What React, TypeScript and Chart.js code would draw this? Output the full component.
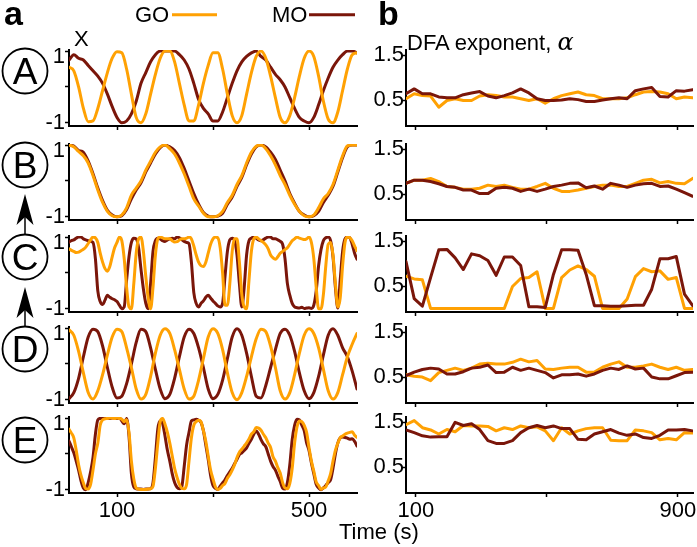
import React, { useEffect, useRef } from "react";
import { Chart, registerables } from "chart.js";

Chart.register(...registerables);

const FONT = '"Liberation Sans", Arial, Helvetica, sans-serif';
const GO_COLOR = "#FFA103";
const MO_COLOR = "#7A160A";

// ---------- categories / ticks ----------
const PANEL_LETTERS = ["A", "B", "C", "D", "E"];
const TIME_10S = [0, 10, 20, 30, 40, 50, 60, 70, 80, 90, 100, 110, 120, 130, 140, 150, 160, 170, 180, 190, 200, 210, 220, 230, 240, 250, 260, 270, 280, 290, 300, 310, 320, 330, 340, 350, 360, 370, 380, 390, 400, 410, 420, 430, 440, 450, 460, 470, 480, 490, 500, 510, 520, 530, 540, 550, 560, 570, 580, 590, 600];
const TIME_5S = [0, 5, 10, 15, 20, 25, 30, 35, 40, 45, 50, 55, 60, 65, 70, 75, 80, 85, 90, 95, 100, 105, 110, 115, 120, 125, 130, 135, 140, 145, 150, 155, 160, 165, 170, 175, 180, 185, 190, 195, 200, 205, 210, 215, 220, 225, 230, 235, 240, 245, 250, 255, 260, 265, 270, 275, 280, 285, 290, 295, 300, 305, 310, 315, 320, 325, 330, 335, 340, 345, 350, 355, 360, 365, 370, 375, 380, 385, 390, 395, 400, 405, 410, 415, 420, 425, 430, 435, 440, 445, 450, 455, 460, 465, 470, 475, 480, 485, 490, 495, 500, 505, 510, 515, 520, 525, 530, 535, 540, 545, 550, 555, 560, 565, 570, 575, 580, 585, 590, 595, 600];
const DFA_WINDOWS = [70, 95, 120, 145, 170, 195, 220, 245, 270, 295, 320, 345, 370, 395, 420, 445, 470, 495, 520, 545, 570, 595, 620, 645, 670, 695, 720, 745, 770, 795, 820, 845, 870, 895, 920, 945];

const TIME_X_TICKS = [100, 300, 500];
const TIME_X_LABELS = [100, 500];
const TIME_Y_TICKS = [-1, 0, 1];
const DFA_X_TICKS = [100, 500, 900];
const DFA_X_LABELS = [100, 900];
const DFA_Y_TICKS = [0.5, 1.5];

// ---------- panel a: normalised signals X ----------
const GO_X_A = [0.55, 0.45, 0.0, -0.6, -0.97, -0.95, -0.6, -0.1, 0.4, 0.8, 0.98, 0.95, 0.5, -0.2, -0.85, -1.0, -0.75, -0.2, 0.35, 0.8, 1.0, 1.0, 0.7, 0.1, -0.5, -0.95, -0.95, -0.5, 0.1, 0.6, 0.95, 0.95, 0.5, -0.2, -0.8, -1.0, -0.8, -0.2, 0.4, 0.85, 1.0, 0.8, 0.3, -0.3, -0.85, -1.0, -0.8, -0.3, 0.3, 0.8, 1.0, 0.85, 0.3, -0.4, -0.9, -1.0, -0.7, -0.1, 0.5, 0.9, 0.95];
const MO_X_A = [0.75, 0.9, 0.8, 0.75, 0.6, 0.45, 0.3, 0.1, -0.2, -0.55, -0.85, -1.0, -0.95, -0.75, -0.4, 0.1, 0.4, 0.7, 0.9, 1.0, 1.0, 1.0, 1.0, 0.9, 0.75, 0.5, 0.1, -0.35, -0.6, -0.75, -0.95, -0.95, -0.7, -0.3, 0.1, 0.45, 0.7, 0.85, 0.95, 1.0, 0.85, 0.75, 0.55, 0.35, 0.2, 0.0, -0.3, -0.6, -0.85, -0.95, -1.0, -0.85, -0.5, -0.1, 0.25, 0.55, 0.75, 0.9, 1.0, 1.0, 0.95];

const GO_X_B = [1.0, 0.95, 0.82, 0.7, 0.5, 0.15, -0.25, -0.6, -0.85, -0.97, -1.0, -0.95, -0.75, -0.4, -0.2, 0.0, 0.3, 0.55, 0.8, 0.95, 1.0, 0.9, 0.75, 0.5, 0.2, -0.15, -0.5, -0.7, -0.9, -1.0, -1.0, -0.97, -0.85, -0.6, -0.4, -0.1, 0.15, 0.5, 0.8, 0.97, 1.0, 0.9, 0.7, 0.45, 0.15, -0.1, -0.4, -0.65, -0.85, -0.97, -1.0, -0.95, -0.75, -0.5, -0.35, -0.1, 0.3, 0.7, 0.98, 1.0, 1.0];
const MO_X_B = [1.0, 0.97, 0.85, 0.8, 0.55, 0.2, -0.2, -0.55, -0.82, -0.95, -1.0, -0.97, -0.8, -0.5, -0.25, -0.05, 0.25, 0.5, 0.75, 0.93, 1.0, 0.95, 0.85, 0.65, 0.35, 0.0, -0.35, -0.65, -0.88, -0.98, -1.0, -0.98, -0.9, -0.65, -0.45, -0.15, 0.1, 0.45, 0.75, 0.95, 1.0, 0.95, 0.8, 0.6, 0.3, 0.0, -0.35, -0.62, -0.85, -0.95, -1.0, -0.97, -0.85, -0.6, -0.4, -0.15, 0.25, 0.65, 0.95, 1.0, 1.0];

const GO_X_C = [0.67, 0.63, 0.6, 0.57, 0.58, 0.62, 0.66, 0.72, 0.82, 0.92, 1.0, 0.98,
  0.85, 0.55, 0.3, 0.12, 0.05, 0.18, 0.45, 0.7, 0.85, 1.0, 0.9, 0.4,
  -0.4, -0.95, -1.0, -0.3, 0.55, 0.95, 1.0, 0.6, -0.1, -0.7, -1.0, -0.4,
  0.5, 0.95, 1.0, 0.98, 0.95, 0.95, 0.95, 0.9, 0.86, 0.87, 0.92, 0.95,
  0.95, 0.97, 1.0, 0.95, 0.75, 0.5, 0.3, 0.2, 0.18, 0.3, 0.55, 0.8,
  0.95, 1.0, 0.98, 0.7, 0.0, -0.9, -0.9, -0.3, 0.6, 0.95, 0.95, 0.3,
  -0.6, -0.95, -1.0, -0.2, 0.6, 0.95, 1.0, 0.95, 0.9, 0.85, 0.78, 0.67,
  0.5, 0.42, 0.38, 0.45, 0.55, 0.6, 0.65, 0.7, 0.8, 0.9, 0.95, 1.0,
  0.97, 0.95, 0.93, 0.95, 1.0, 0.85, 0.4, -0.4, -1.0, -1.0, -0.6, 0.2,
  0.8, 0.85, 0.5, -0.3, -0.95, -0.7, 0.2, 0.85, 1.0, 0.98, 0.9, 0.75,
  0.62];
const MO_X_C = [0.86, 0.9, 0.92, 0.97, 1.0, 1.0, 0.95, 0.92, 0.9, 0.88, 0.85, 0.4,
  -0.5, -0.8, -0.88, -0.76, -0.62, -0.68, -0.72, -0.75, -0.8, -0.9, -1.0, -0.95,
  -0.2, 0.45, 0.85, 0.97, 0.95, 0.7, 0.1, -0.45, -0.85, -1.0, -0.3, 0.6,
  0.9, 0.97, 0.95, 0.9, 0.88, 0.92, 0.95, 0.97, 0.95, 1.0, 0.98, 0.93,
  0.88, 0.85, 0.82, 0.3, -0.55, -0.85, -0.95, -0.85, -0.78, -0.68, -0.62, -0.7,
  -0.78, -0.85, -0.92, -0.95, -0.85, -0.1, 0.6, 0.92, 0.97, 0.9, 0.5, -0.3,
  -0.95, -0.4, 0.5, 0.9, 0.97, 1.0, 0.97, 0.92, 0.9, 0.93, 0.97, 1.0,
  1.0, 0.95, 0.95, 0.92, 0.88, 0.8, 0.4, -0.3, -0.62, -0.85, -0.95, -0.97,
  -0.98, -0.96, -0.99, -0.98, -0.97, -0.99, -0.9, -0.5, 0.2, 0.65, 0.9, 0.98,
  1.0, 0.9, 0.45, -0.4, -0.98, -0.2, 0.6, 0.95, 1.0, 0.98, 0.8, 0.55,
  0.38];

const GO_X_D = [0.95, 0.8, 0.35, -0.25, -0.8, -0.98, -0.75, -0.3, 0.25, 0.75, 0.97, 0.9, 0.45, -0.1, -0.7, -0.98, -0.85, -0.35, 0.3, 0.8, 0.98, 0.85, 0.4, -0.15, -0.7, -0.98, -0.9, -0.45, 0.15, 0.75, 0.98, 0.85, 0.4, -0.25, -0.8, -1.0, -0.8, -0.35, 0.2, 0.7, 0.97, 0.9, 0.5, -0.1, -0.75, -0.98, -0.8, -0.3, 0.3, 0.8, 0.98, 0.85, 0.45, -0.15, -0.75, -0.98, -0.8, -0.3, 0.2, 0.55, 0.85];
const MO_X_D = [-0.97, -0.8, -0.4, 0.2, 0.75, 0.97, 0.9, 0.5, -0.1, -0.65, -0.95, -0.9, -0.55, 0.0, 0.6, 0.97, 0.9, 0.45, -0.15, -0.7, -0.97, -0.85, -0.4, 0.2, 0.75, 0.97, 0.85, 0.45, -0.1, -0.7, -0.97, -0.85, -0.45, 0.15, 0.75, 0.98, 0.8, 0.3, -0.35, -0.9, -0.95, -0.6, -0.1, 0.4, 0.85, 0.97, 0.8, 0.35, -0.25, -0.75, -0.97, -0.8, -0.35, 0.25, 0.8, 0.98, 0.8, 0.45, 0.2, -0.2, -0.7];

const GO_X_E = [0.69, 0.58, 0.45, 0.1, -0.3, -0.6, -0.81, -0.97, -0.98, -0.85, -0.45, 0.0,
  0.3, 0.8, 0.95, 0.98, 0.99, 1.0, 1.0, 0.99, 1.0, 0.99, 0.97, 0.9,
  0.95, 0.6, -0.2, -0.7, -0.95, -0.98, -0.99, -0.99, -0.99, -0.98, -0.97, -0.9,
  -0.4, 0.3, 0.9, 0.99, 0.83, 0.6, 0.3, -0.05, -0.4, -0.65, -0.85, -0.96,
  -0.97, -0.85, -0.2, 0.45, 0.8, 0.9, 0.94, 0.9, 0.65, 0.35, -0.06, -0.45,
  -0.7, -0.92, -0.99, -0.96, -0.88, -0.82, -0.68, -0.58, -0.45, -0.3, -0.1, 0.05,
  0.13, 0.22, 0.31, 0.42, 0.55, 0.62, 0.74, 0.72, 0.66, 0.55, 0.45, 0.3,
  0.18, -0.08, -0.2, -0.38, -0.53, -0.8, -0.95, -0.97, -0.82, -0.4, 0.3, 0.75,
  0.92, 0.9, 0.8, 0.6, 0.18, -0.2, -0.48, -0.78, -0.88, -0.99, -0.95, -0.92,
  -0.75, -0.55, -0.2, 0.1, 0.3, 0.45, 0.5, 0.55, 0.58, 0.6, 0.62, 0.52,
  0.46];
const MO_X_E = [0.36, 0.2, 0.03, -0.2, -0.45, -0.75, -0.95, -1.0, -0.8, -0.5, -0.1, 0.55,
  0.95, 0.99, 0.99, 1.0, 1.0, 0.99, 1.0, 1.0, 0.99, 1.0, 0.92, 0.84,
  0.99, 0.5, -0.55, -0.92, -0.97, -0.98, -0.98, -0.99, -0.98, -0.98, -0.97, -0.8,
  -0.1, 0.7, 0.92, 0.85, 0.5, 0.1, -0.2, -0.55, -0.8, -0.93, -0.97, -0.91,
  -0.35, 0.25, 0.6, 0.92, 0.95, 0.97, 0.94, 0.88, 0.65, 0.25, -0.15, -0.6,
  -0.88, -0.96, -0.99, -0.9, -0.81, -0.72, -0.6, -0.5, -0.4, -0.27, -0.15, -0.02,
  0.03, 0.1, 0.17, 0.3, 0.41, 0.55, 0.64, 0.55, 0.4, 0.28, 0.2, 0.0,
  -0.2, -0.35, -0.45, -0.62, -0.77, -0.95, -0.98, -0.8, -0.3, 0.4, 0.8, 0.97,
  0.95, 0.8, 0.65, 0.31, 0.1, -0.25, -0.55, -0.85, -0.95, -1.0, -0.95, -0.88,
  -0.8, -0.72, -0.4, 0.0, 0.3, 0.45, 0.47, 0.46, 0.44, 0.41, 0.42, 0.35,
  0.22];

// ---------- panel b: DFA exponent alpha ----------
const GO_DFA_A = [0.53, 0.64, 0.60, 0.59, 0.34, 0.49, 0.53, 0.49, 0.49, 0.59, 0.62, 0.60, 0.57, 0.57, 0.53, 0.49, 0.53, 0.43, 0.53, 0.60, 0.64, 0.68, 0.62, 0.60, 0.53, 0.53, 0.53, 0.55, 0.62, 0.68, 0.69, 0.68, 0.64, 0.53, 0.57, 0.55];
const MO_DFA_A = [0.64, 0.75, 0.64, 0.64, 0.57, 0.55, 0.55, 0.62, 0.66, 0.69, 0.59, 0.55, 0.60, 0.66, 0.75, 0.66, 0.53, 0.49, 0.49, 0.50, 0.53, 0.51, 0.47, 0.47, 0.50, 0.53, 0.55, 0.53, 0.71, 0.75, 0.78, 0.58, 0.57, 0.71, 0.70, 0.73];
const GO_DFA_B = [0.74, 0.81, 0.81, 0.85, 0.78, 0.67, 0.65, 0.61, 0.61, 0.63, 0.70, 0.67, 0.70, 0.65, 0.61, 0.61, 0.67, 0.74, 0.63, 0.56, 0.56, 0.59, 0.63, 0.67, 0.70, 0.70, 0.67, 0.67, 0.74, 0.81, 0.83, 0.75, 0.78, 0.74, 0.73, 0.85];
const MO_DFA_B = [0.74, 0.81, 0.81, 0.78, 0.73, 0.67, 0.65, 0.59, 0.59, 0.51, 0.51, 0.63, 0.65, 0.63, 0.56, 0.61, 0.56, 0.61, 0.67, 0.70, 0.74, 0.75, 0.64, 0.68, 0.61, 0.74, 0.70, 0.65, 0.70, 0.73, 0.74, 0.67, 0.68, 0.61, 0.53, 0.45];
const GO_DFA_C = [0.72, 0.66, 0.64, 0.0, 0.0, 0.0, 0.0, 0.0, 0.0, 0.0, 0.0, 0.0, 0.0, 0.49, 0.67, 0.69, 0.82, 0.0, 0.0, 0.69, 0.86, 0.95, 0.87, 0.72, 0.0, 0.0, 0.0, 0.21, 0.71, 0.89, 0.82, 0.84, 0.65, 0.69, 0.0, 0.0];
const MO_DFA_C = [1.05, 0.22, 0.05, 0.69, 1.31, 1.32, 1.13, 0.87, 1.22, 1.18, 1.07, 0.74, 1.15, 1.15, 0.96, 0.04, 0.04, 0.02, 0.76, 1.31, 1.31, 1.30, 0.76, 0.06, 0.06, 0.05, 0.05, 0.06, 0.07, 0.07, 0.43, 1.11, 1.11, 1.16, 0.32, 0.06];
const GO_DFA_D = [0.55, 0.52, 0.50, 0.42, 0.60, 0.65, 0.70, 0.65, 0.70, 0.79, 0.81, 0.79, 0.79, 0.83, 0.90, 0.84, 0.87, 0.68, 0.67, 0.70, 0.72, 0.72, 0.61, 0.61, 0.72, 0.79, 0.84, 0.72, 0.72, 0.75, 0.79, 0.72, 0.67, 0.72, 0.65, 0.67];
const MO_DFA_D = [0.53, 0.61, 0.67, 0.70, 0.68, 0.57, 0.57, 0.62, 0.70, 0.72, 0.77, 0.60, 0.61, 0.72, 0.65, 0.70, 0.65, 0.60, 0.48, 0.55, 0.55, 0.57, 0.52, 0.57, 0.65, 0.70, 0.67, 0.75, 0.68, 0.70, 0.50, 0.46, 0.46, 0.53, 0.60, 0.61];
const GO_DFA_E = [1.45, 1.54, 1.38, 1.33, 1.24, 1.34, 1.29, 1.43, 1.42, 1.42, 1.41, 1.31, 1.38, 1.34, 1.42, 1.38, 1.40, 1.31, 1.09, 1.38, 1.24, 1.31, 1.36, 1.38, 1.38, 1.10, 1.09, 1.09, 1.33, 1.31, 1.27, 1.11, 1.14, 1.11, 1.27, 1.26];
const MO_DFA_E = [1.33, 1.27, 1.20, 1.17, 1.18, 1.18, 1.50, 1.43, 1.47, 1.34, 1.09, 1.03, 1.03, 1.09, 1.27, 1.38, 1.43, 1.38, 1.42, 1.36, 1.36, 1.12, 1.11, 1.24, 1.29, 1.34, 1.26, 1.21, 1.24, 1.16, 1.14, 1.21, 1.33, 1.33, 1.34, 1.31];

const ROWS = [
  { time: TIME_10S, goX: GO_X_A, moX: MO_X_A, goD: GO_DFA_A, moD: MO_DFA_A },
  { time: TIME_10S, goX: GO_X_B, moX: MO_X_B, goD: GO_DFA_B, moD: MO_DFA_B },
  { time: TIME_5S, goX: GO_X_C, moX: MO_X_C, goD: GO_DFA_C, moD: MO_DFA_C },
  { time: TIME_10S, goX: GO_X_D, moX: MO_X_D, goD: GO_DFA_D, moD: MO_DFA_D },
  { time: TIME_5S, goX: GO_X_E, moX: MO_X_E, goD: GO_DFA_E, moD: MO_DFA_E },
];

// ---------- layout ----------
const ROW_TOP = [50, 144, 236, 327, 417];
const PLOT_H = 76;
const PAD_TOP = 14;
const CIRCLE_CY = [71, 165, 257, 349, 440];
const CIRCLE_R = 22.5;

function makeConfig(kind: string, times: number[], go: number[], mo: number[], bottom: boolean): any {
  const isTime = kind === "time";
  const pts = (arr: number[]) => arr.map((y, i) => ({ x: times[i], y }));
  const base = { pointRadius: 0, borderWidth: 3, fill: false, borderCapStyle: "round", borderJoinStyle: "round" };
  const goDs: any = { ...base, label: "GO", data: pts(go), borderColor: GO_COLOR };
  const moDs: any = { ...base, label: "MO", data: pts(mo), borderColor: MO_COLOR };
  if (isTime) {
    goDs.cubicInterpolationMode = "monotone";
    moDs.cubicInterpolationMode = "monotone";
  } else {
    goDs.tension = 0;
    moDs.tension = 0;
  }
  const xTicks = isTime ? TIME_X_TICKS : DFA_X_TICKS;
  const xLabels = isTime ? TIME_X_LABELS : DFA_X_LABELS;
  const yTicks = isTime ? TIME_Y_TICKS : DFA_Y_TICKS;
  const gridCfg = { display: true, drawOnChartArea: false, drawTicks: true, tickLength: 4, tickColor: "#000", tickWidth: 1.5 };
  const borderCfg = { display: true, color: "#000", width: 2 };
  return {
    type: "line",
    data: { datasets: isTime ? [goDs, moDs] : [moDs, goDs] },
    options: {
      animation: false,
      responsive: false,
      maintainAspectRatio: false,
      events: [],
      layout: { padding: { top: PAD_TOP, right: isTime ? 3 : 4, left: 0, bottom: 0 } },
      plugins: { legend: { display: false }, tooltip: { enabled: false }, title: { display: false } },
      scales: {
        x: {
          type: "linear",
          min: isTime ? 0 : 70,
          max: isTime ? 600 : 946,
          afterBuildTicks: (s: any) => { s.ticks = xTicks.map((v) => ({ value: v })); },
          afterFit: (s: any) => { s.height = bottom ? 34 : 7; s.paddingLeft = 0; s.paddingRight = 0; },
          ticks: {
            autoSkip: false, maxRotation: 0, minRotation: 0, padding: 1, color: "#000",
            font: { family: FONT, size: 22 },
            callback: (v: number) => (bottom && xLabels.includes(v) ? String(v) : ""),
          },
          grid: gridCfg,
          border: borderCfg,
        },
        y: {
          type: "linear",
          min: isTime ? -1.09 : -0.08,
          max: isTime ? 1.03 : 1.62,
          afterBuildTicks: (s: any) => { s.ticks = yTicks.map((v) => ({ value: v })); },
          afterFit: (s: any) => { s.width = isTime ? 39 : 41; s.paddingTop = 0; s.paddingBottom = 0; },
          ticks: {
            autoSkip: false, padding: isTime ? 0 : -2, color: "#000",
            font: (ctx: any) => ({ family: FONT, size: 22, lineHeight: isTime && ctx.tick && ctx.tick.value === 1 ? "12px" : 1.2 }),
            callback: (v: number) => {
              if (isTime) return v === 1 ? ["", "1"] : v === -1 ? "-1" : "";
              return v === 0.5 ? "0.5" : v === 1.5 ? "1.5" : "";
            },
          },
          grid: gridCfg,
          border: borderCfg,
        },
      },
    },
  };
}

function MiniChart({ kind, row }: { kind: string; row: number }) {
  const ref = useRef<HTMLCanvasElement>(null);
  const isTime = kind === "time";
  const bottom = row === ROWS.length - 1;
  const xh = bottom ? 34 : 7;
  const w = isTime ? 330 : 332;
  const h = PAD_TOP + PLOT_H + xh;
  const left = isTime ? 30 : 365;
  useEffect(() => {
    const r = ROWS[row];
    const cfg = isTime
      ? makeConfig(kind, r.time, r.goX, r.moX, bottom)
      : makeConfig(kind, DFA_WINDOWS, r.goD, r.moD, bottom);
    const chart = new Chart(ref.current as HTMLCanvasElement, cfg);
    return () => chart.destroy();
  }, [kind, row]);
  return (
    <canvas
      ref={ref}
      width={w}
      height={h}
      style={{ position: "absolute", left, top: ROW_TOP[row] - PAD_TOP, width: w, height: h }}
    />
  );
}

function Txt({ x, baseline, size, bold, children, family, italic }: any) {
  return (
    <div
      style={{
        position: "absolute",
        left: x,
        top: baseline - 0.8465 * size,
        fontFamily: family || FONT,
        fontSize: size,
        lineHeight: `${size}px`,
        fontWeight: bold ? "bold" : "normal",
        fontStyle: italic ? "italic" : "normal",
        whiteSpace: "nowrap",
        color: "#000",
      }}
    >
      {children}
    </div>
  );
}

function Decorations() {
  const arrows = [
    { tip: 194, end: CIRCLE_CY[2] - CIRCLE_R },
    { tip: 287, end: CIRCLE_CY[3] - CIRCLE_R },
  ];
  const cx = 25;
  return (
    <svg width={697} height={547} style={{ position: "absolute", left: 0, top: 0, pointerEvents: "none" }}>
      {PANEL_LETTERS.map((l, i) => (
        <g key={l}>
          <circle cx={cx} cy={CIRCLE_CY[i]} r={CIRCLE_R} fill="none" stroke="#000" strokeWidth={1.8} />
          <text x={cx} y={CIRCLE_CY[i] + 13.2} textAnchor="middle" fontFamily={FONT} fontSize={37} fill="#000">
            {l}
          </text>
        </g>
      ))}
      {arrows.map((a, i) => (
        <g key={i}>
          <line x1={cx} y1={a.tip + 22} x2={cx} y2={a.end} stroke="#000" strokeWidth={1.5} />
          <path
            d={`M ${cx} ${a.tip} L ${cx + 8.5} ${a.tip + 31} L ${cx} ${a.tip + 23} L ${cx - 8.5} ${a.tip + 31} Z`}
            fill="#000"
          />
        </g>
      ))}
      <line x1={172} y1={14.7} x2={217} y2={14.7} stroke={GO_COLOR} strokeWidth={3} />
      <line x1={309} y1={14.7} x2={355} y2={14.7} stroke={MO_COLOR} strokeWidth={3} />
    </svg>
  );
}

export default function App() {
  return (
    <div style={{ position: "absolute", left: 0, top: 0, width: 697, height: 547, background: "#fff", overflow: "hidden" }}>
      {ROWS.map((_, i) => (
        <MiniChart key={`t${i}`} kind="time" row={i} />
      ))}
      {ROWS.map((_, i) => (
        <MiniChart key={`d${i}`} kind="dfa" row={i} />
      ))}
      <Decorations />
      <Txt x={4} baseline={25} size={34} bold>a</Txt>
      <Txt x={378} baseline={25} size={34} bold>b</Txt>
      <Txt x={135} baseline={23} size={22}>GO</Txt>
      <Txt x={272} baseline={23} size={22}>MO</Txt>
      <Txt x={74} baseline={46.5} size={22}>X</Txt>
      <Txt x={407} baseline={49.7} size={22}>
        DFA exponent,{" "}
        <span style={{ fontFamily: '"DejaVu Serif", "Liberation Serif", serif', fontStyle: "italic", fontSize: 24 }}>α</span>
      </Txt>
      <Txt x={339} baseline={540} size={22}>Time (s)</Txt>
    </div>
  );
}
